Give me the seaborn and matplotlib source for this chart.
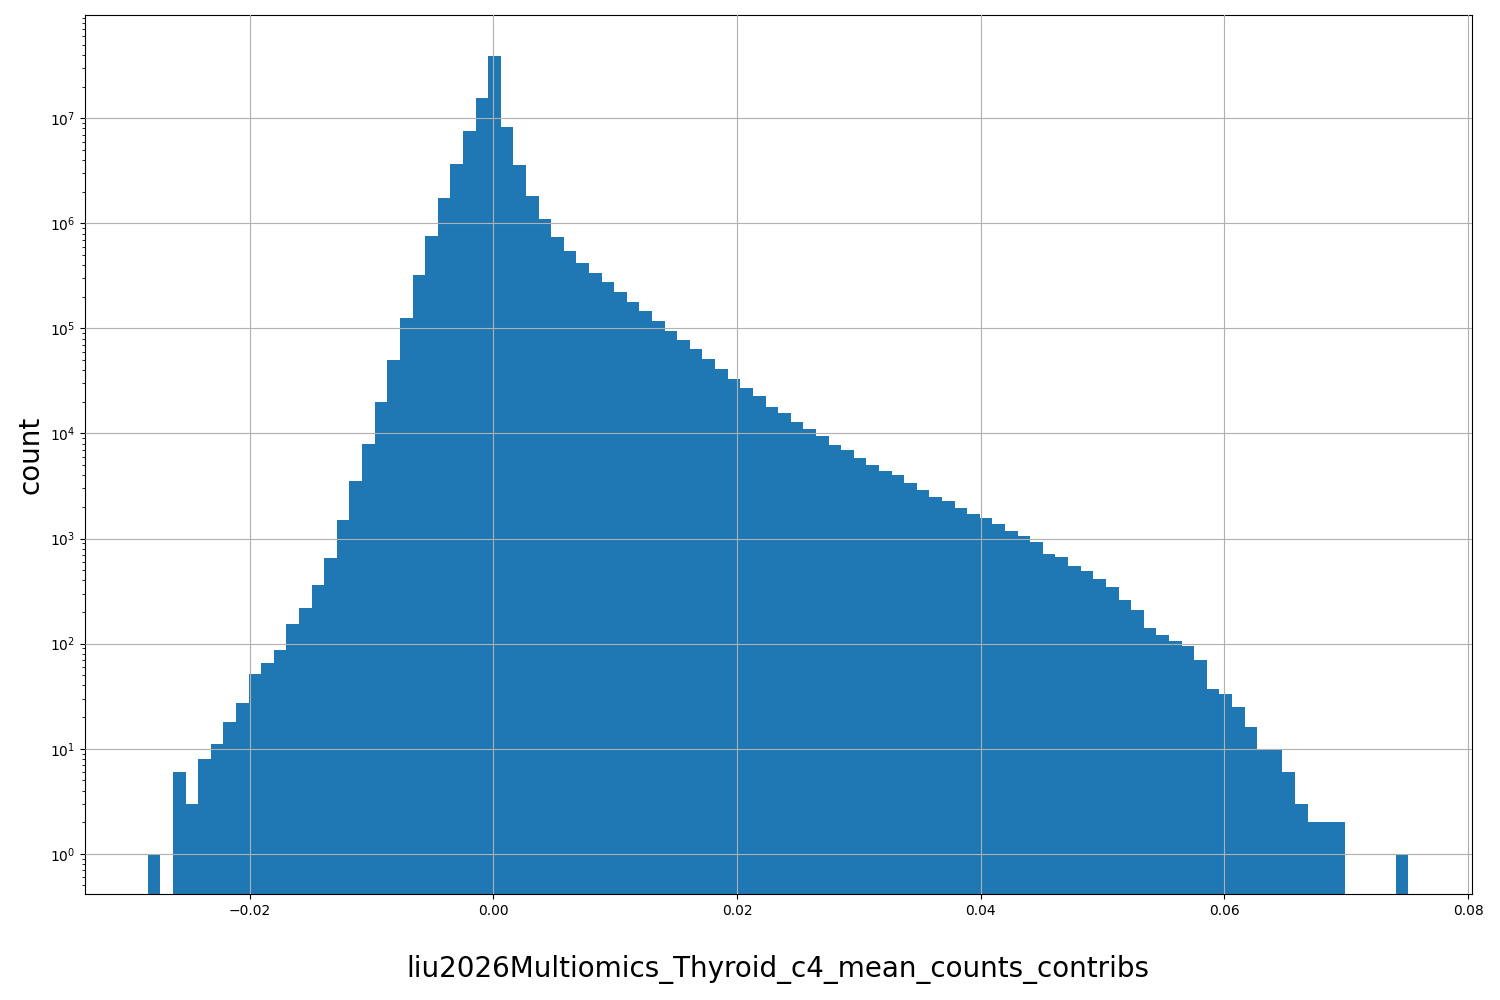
import numpy as np
import pandas as pd
import matplotlib
matplotlib.use("Agg")
import matplotlib.pyplot as plt
import seaborn as sns

x_min = -0.02836
x_max = 0.0751
counts = [1, 0, 6, 3, 8, 11, 18, 27, 52, 66,
          87, 155, 220, 360, 660, 1500, 3500, 8000, 20000, 50000,
          125000, 320000, 750000, 1.75e6, 3.7e6, 7.5e6, 1.55e7, 3.9e7, 8.3e6, 3.6e6,
          1.8e6, 1.1e6, 740000, 550000, 420000, 340000, 275000, 220000, 180000, 145000,
          118000, 95000, 77000, 63000, 51000, 41000, 33000, 27000, 22500, 18000,
          15500, 13000, 11000, 9500, 7800, 6900, 5800, 5000, 4400, 4000,
          3400, 2900, 2500, 2300, 1950, 1700, 1580, 1380, 1180, 1060,
          930, 720, 670, 550, 490, 410, 350, 260, 210, 140,
          122, 107, 95, 70, 37, 33, 25, 16, 10, 10,
          6, 3, 2, 2, 2, 0, 0, 0, 0, 1]
xlabel = "liu2026Multiomics_Thyroid_c4_mean_counts_contribs"

nb = len(counts)
edges = np.linspace(x_min, x_max, nb + 1)
centers = (edges[:-1] + edges[1:]) / 2
df = pd.DataFrame({"v": centers, "w": np.array(counts, dtype=float)})

fig = plt.figure(figsize=(15, 10), dpi=100)
ax = fig.add_axes([0.0565, 0.106, 0.9245, 0.879])
sns.histplot(data=df, x="v", weights="w", bins=nb, binrange=(x_min, x_max), ax=ax,
             color="#1f77b4", alpha=1, edgecolor="none", linewidth=0)
ax.set_yscale("log")
ax.set_ylim(0.415, 9.6e7)
ax.set_xlim(x_min - 0.05 * (x_max - x_min), x_max + 0.05 * (x_max - x_min))
ax.set_axisbelow(False)
ax.grid(True, color="#b0b0b0", linewidth=0.8)
ax.set_xlabel(xlabel, fontsize=20, labelpad=27)
ax.set_ylabel("count", fontsize=20)
fig.savefig("out.png")
